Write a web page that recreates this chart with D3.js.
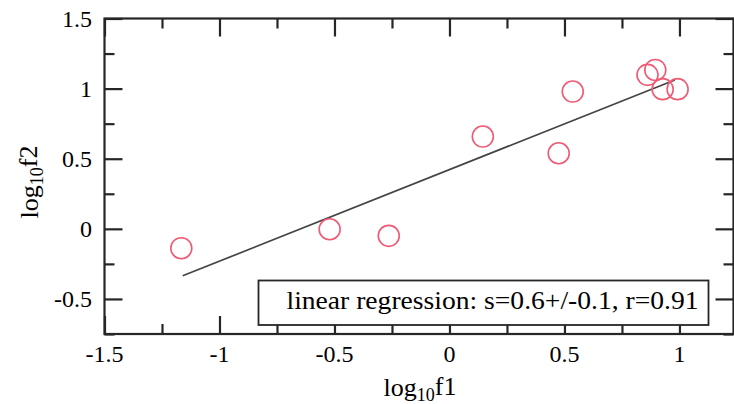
<!DOCTYPE html>
<html><head><meta charset="utf-8">
<script src="https://cdn.jsdelivr.net/npm/d3@7"></script>
<style>body{margin:0;background:#fff;}svg{display:block;}</style>
</head><body>
<svg id="c" width="734" height="404"></svg>
<script>
// data
const pointsX = [-1.166, -0.521, -0.264, 0.145, 0.536, 0.475, 0.861, 0.895, 0.927, 0.992];
const pointsY = [-0.138, -0.003, -0.050, 0.658, 0.979, 0.539, 1.098, 1.133, 0.996, 0.996];
const fitX = [-1.16, 0.98];
const fitY = [-0.335, 1.062];
const xMajor = [-1.5, -1, -0.5, 0, 0.5, 1];
const xMinor = [-1.25, -0.75, -0.25, 0.25, 0.75, 1.25];
const yMajor = [-0.5, 0, 0.5, 1, 1.5];
const yMinor = [-0.75, -0.25, 0.25, 0.75, 1.25];
const legendText = "linear regression: s=0.6+/-0.1, r=0.91";

const svg = d3.select("#c");
const L = 104.5, R = 733.5, T = 18.5, B = 334;
const x = d3.scaleLinear().domain([-1.5, 1.235]).range([L, R]);
const y = d3.scaleLinear().domain([-0.75, 1.5]).range([B, T]);
const font = "'Liberation Serif', 'Times New Roman', serif";
const axCol = "#262626";

function styleAxis(g){ g.select(".domain").remove(); g.selectAll("line").attr("stroke", axCol).attr("stroke-width", 2.2); g.selectAll("text").remove(); }
const xMin = xMinor.filter(v => v <= 1.235);
svg.append("g").attr("transform", `translate(0,${B})`).call(d3.axisTop(x).tickValues(xMajor).tickSize(18)).call(styleAxis);
svg.append("g").attr("transform", `translate(0,${B})`).call(d3.axisTop(x).tickValues(xMin).tickSize(10)).call(styleAxis);
svg.append("g").attr("transform", `translate(0,${T})`).call(d3.axisBottom(x).tickValues(xMajor).tickSize(18)).call(styleAxis);
svg.append("g").attr("transform", `translate(0,${T})`).call(d3.axisBottom(x).tickValues(xMin).tickSize(10)).call(styleAxis);
svg.append("g").attr("transform", `translate(${L},0)`).call(d3.axisRight(y).tickValues(yMajor).tickSize(18)).call(styleAxis);
svg.append("g").attr("transform", `translate(${L},0)`).call(d3.axisRight(y).tickValues(yMinor).tickSize(10)).call(styleAxis);
svg.append("g").attr("transform", `translate(${R},0)`).call(d3.axisLeft(y).tickValues(yMajor).tickSize(18)).call(styleAxis);
svg.append("g").attr("transform", `translate(${R},0)`).call(d3.axisLeft(y).tickValues(yMinor).tickSize(10)).call(styleAxis);

svg.append("rect").attr("x", L).attr("y", T).attr("width", R - L).attr("height", B - T)
  .attr("fill", "none").attr("stroke", axCol).attr("stroke-width", 2.2);

const fmt = d => d3.format("")(d).replace("−", "-");
svg.append("g").selectAll("text").data(xMajor).join("text")
  .attr("x", d => x(d)).attr("y", 362).attr("text-anchor", "middle")
  .attr("font-family", font).attr("font-size", 24).attr("fill", "#000")
  .text(fmt);
svg.append("g").selectAll("text").data(yMajor).join("text")
  .attr("x", 92).attr("y", d => y(d)).attr("dy", "0.34em").attr("text-anchor", "end")
  .attr("font-family", font).attr("font-size", 24).attr("fill", "#000")
  .text(fmt);

svg.append("line")
  .attr("x1", x(fitX[0])).attr("y1", y(fitY[0]))
  .attr("x2", x(fitX[1])).attr("y2", y(fitY[1]))
  .attr("stroke", "#444").attr("stroke-width", 1.7);

svg.append("g").selectAll("circle").data(pointsX.map((v, i) => [v, pointsY[i]])).join("circle")
  .attr("cx", d => x(d[0])).attr("cy", d => y(d[1])).attr("r", 10.5)
  .attr("fill", "none").attr("stroke", "#ef5a74").attr("stroke-width", 1.6);

svg.append("rect").attr("x", 258.5).attr("y", 280.5).attr("width", 450).attr("height", 44.5)
  .attr("fill", "#fff").attr("stroke", axCol).attr("stroke-width", 1.8);
svg.append("text").attr("x", 286.5).attr("y", 308.5)
  .attr("font-family", font).attr("font-size", 26).attr("fill", "#000")
  .attr("textLength", 412).attr("lengthAdjust", "spacingAndGlyphs")
  .text(legendText);

const xt = svg.append("text").attr("x", 420).attr("y", 396).attr("text-anchor", "middle")
  .attr("font-family", font).attr("font-size", 26).attr("fill", "#000");
xt.append("tspan").text("log");
xt.append("tspan").attr("font-size", 18).attr("dy", 5).text("10");
xt.append("tspan").attr("dy", -6).text("f1");

const yt = svg.append("text").attr("transform", "translate(38,182) rotate(-90)").attr("text-anchor", "middle")
  .attr("font-family", font).attr("font-size", 26).attr("fill", "#000");
yt.append("tspan").text("log");
yt.append("tspan").attr("font-size", 18).attr("dy", 5).text("10");
yt.append("tspan").attr("dy", -6).text("f2");
</script>
</body></html>
